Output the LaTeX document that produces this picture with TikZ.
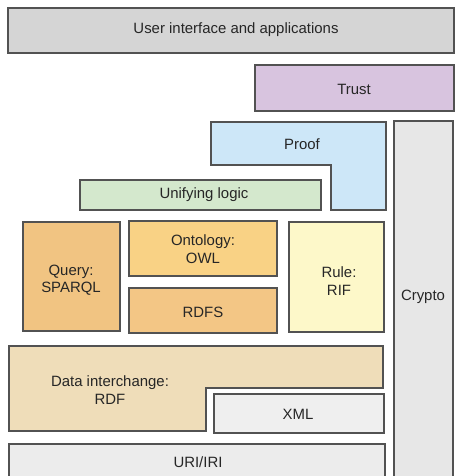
\documentclass[tikz,border=0pt]{standalone}
\usepackage{fontspec}
\setmainfont{Liberation Sans}
\begin{document}
\begin{tikzpicture}[x=0.75pt,y=-0.75pt,
  layer/.style={draw=black!68, line width=1.1pt},
  lbl/.style={font=\fontsize{11.2}{13.2}\selectfont, text=black!85, align=center, inner sep=0pt}]
\definecolor{cUI}{HTML}{D5D5D5}
\definecolor{cTrust}{HTML}{D8C4DF}
\definecolor{cProof}{HTML}{CDE7F8}
\definecolor{cLogic}{HTML}{D4E8CD}
\definecolor{cQuery}{HTML}{F1C482}
\definecolor{cOnto}{HTML}{F9D285}
\definecolor{cRdfs}{HTML}{F3C685}
\definecolor{cRule}{HTML}{FDF8C9}
\definecolor{cData}{HTML}{EFDDB9}
\definecolor{cXml}{HTML}{EFEFEF}
\definecolor{cUri}{HTML}{ECECEC}
\definecolor{cCrypto}{HTML}{E7E7E7}
\useasboundingbox (0,0) rectangle (455,476);
\clip (0,0) rectangle (455,476);

% stacked layers
\draw[layer, fill=cUI] (8,8) rectangle (454,53);
\draw[layer, fill=cTrust] (255,65) rectangle (454,111);
\draw[layer, fill=cProof] (211,122) -- (386,122) -- (386,210) -- (331,210) -- (331,165) -- (211,165) -- cycle;
\draw[layer, fill=cCrypto] (394,121) rectangle (453,490);
\draw[layer, fill=cLogic] (80,180) rectangle (321,210);
\draw[layer, fill=cQuery] (23,222) rectangle (120,331);
\draw[layer, fill=cOnto] (129,221) rectangle (277,276);
\draw[layer, fill=cRdfs] (129,288) rectangle (277,333);
\draw[layer, fill=cRule] (289,222) rectangle (384,332);
\draw[layer, fill=cData] (9,346) -- (383,346) -- (383,388) -- (206,388) -- (206,431) -- (9,431) -- cycle;
\draw[layer, fill=cXml] (214,394) rectangle (384,433);
\draw[layer, fill=cUri] (9,444) rectangle (385,490);

% labels
\node[lbl] (ui) at (236,30) {User interface and applications};
\node[lbl] (trust) at (354,89) {Trust};
\node[lbl] (proof) at (302,144) {Proof};
\node[lbl] (logic) at (204,195) {Unifying logic};
\node[lbl] (query) at (71,280) {Query:\\SPARQL};
\node[lbl] (onto) at (203,249) {Ontology:\\OWL};
\node[lbl] (rdfs) at (203,312) {RDFS};
\node[lbl] (rule) at (339,281) {Rule:\\RIF};
\node[lbl] (data) at (110,390) {Data interchange:\\RDF};
\node[lbl] (xml) at (298,414) {XML};
\node[lbl] (uri) at (198,462) {URI/IRI};
\node[lbl] (crypto) at (423,297) {Crypto};
\end{tikzpicture}
\end{document}
